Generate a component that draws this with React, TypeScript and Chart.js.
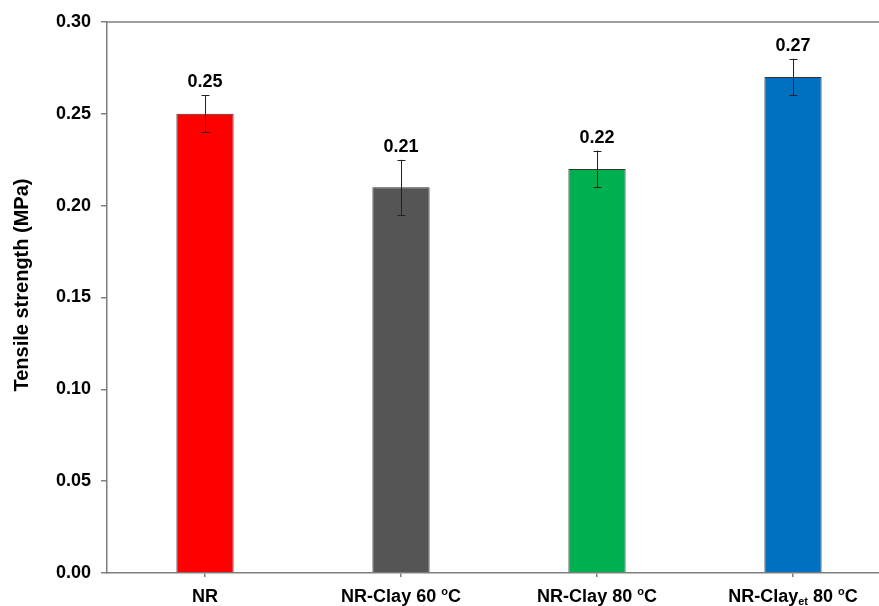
import React, { useEffect, useRef } from "react";
import { Chart, registerables } from "chart.js";

Chart.register(...registerables);

const categories = ["NR", "NR-Clay 60 oC", "NR-Clay 80 oC", "NR-Clayet 80 oC"];
// rich label segments: [text, kind] where kind is "", "sup" or "sub"
const categoryLabelParts: [string, string][][] = [
  [["NR", ""]],
  [["NR-Clay 60 ", ""], ["o", "sup"], ["C", ""]],
  [["NR-Clay 80 ", ""], ["o", "sup"], ["C", ""]],
  [["NR-Clay", ""], ["et", "sub"], [" 80 ", ""], ["o", "sup"], ["C", ""]],
];
const tensileValues = [0.25, 0.21, 0.22, 0.27];
const tensileErrors = [0.01, 0.015, 0.01, 0.01];
const barColors = ["#FF0000", "#555555", "#00B050", "#0070C0"];
const yTicks = [0, 0.05, 0.1, 0.15, 0.2, 0.25, 0.3];
const yTitle = "Tensile strength (MPa)";

const FONT = "'Liberation Sans', Arial, sans-serif";
const AXIS_COLOR = "#7f7f7f";

const overlayPlugin = {
  id: "overlay",
  afterDraw(chart: any) {
    const ctx: CanvasRenderingContext2D = chart.ctx;
    const { left, right, top } = chart.chartArea;
    const ys = chart.scales.y;
    const xs = chart.scales.x;
    const meta = chart.getDatasetMeta(0);
    ctx.save();
    // top frame line
    ctx.strokeStyle = AXIS_COLOR;
    ctx.lineWidth = 1.5;
    ctx.beginPath();
    ctx.moveTo(left - 0.75, top);
    ctx.lineTo(right + 2, top);
    ctx.stroke();

    // error bars + value labels
    meta.data.forEach((bar: any, i: number) => {
      const x = Math.round(bar.x) + 0.5;
      const hi = ys.getPixelForValue(tensileValues[i] + tensileErrors[i]);
      const lo = ys.getPixelForValue(tensileValues[i] - tensileErrors[i]);
      ctx.strokeStyle = "#222222";
      ctx.lineWidth = 1;
      ctx.beginPath();
      ctx.moveTo(x, hi);
      ctx.lineTo(x, lo);
      ctx.moveTo(x - 4, Math.round(hi) + 0.5);
      ctx.lineTo(x + 4, Math.round(hi) + 0.5);
      ctx.moveTo(x - 4, Math.round(lo) + 0.5);
      ctx.lineTo(x + 4, Math.round(lo) + 0.5);
      ctx.stroke();

      ctx.fillStyle = "#000000";
      ctx.font = `bold 18px ${FONT}`;
      ctx.textAlign = "center";
      ctx.textBaseline = "alphabetic";
      ctx.fillText(tensileValues[i].toFixed(2), bar.x, hi - 8);
    });

    // category labels with super/subscripts
    ctx.textBaseline = "alphabetic";
    ctx.textAlign = "left";
    categoryLabelParts.forEach((parts, i) => {
      const cx = xs.getPixelForValue(i);
      const fontFor = (k: string) => (k === "" ? `bold 18px ${FONT}` : `bold 11px ${FONT}`);
      let total = 0;
      parts.forEach(([t, k]) => {
        ctx.font = fontFor(k);
        total += ctx.measureText(t).width;
      });
      let px = cx - total / 2;
      const base = 602;
      parts.forEach(([t, k]) => {
        ctx.font = fontFor(k);
        const dy = k === "sup" ? -7 : k === "sub" ? 3 : 0;
        ctx.fillText(t, px, base + dy);
        px += ctx.measureText(t).width;
      });
    });

    // y axis title
    ctx.save();
    ctx.translate(22, 285);
    ctx.rotate(-Math.PI / 2);
    ctx.font = `bold 20px ${FONT}`;
    ctx.textAlign = "center";
    ctx.textBaseline = "middle";
    ctx.fillStyle = "#000000";
    ctx.fillText(yTitle, 0, 0);
    ctx.restore();

    ctx.restore();
  },
};

export default function App() {
  const canvasRef = useRef<HTMLCanvasElement | null>(null);

  useEffect(() => {
    if (!canvasRef.current) return;
    const chart = new Chart(canvasRef.current, {
      type: "bar",
      data: {
        labels: categories,
        datasets: [
          {
            data: tensileValues,
            backgroundColor: barColors,
            borderColor: "#333333",
            borderWidth: 1,
            categoryPercentage: 1,
            barPercentage: 0.292,
          },
        ],
      },
      options: {
        animation: false,
        responsive: false,
        devicePixelRatio: 1,
        layout: { padding: { top: 22, right: 9, left: 0, bottom: 0 } },
        plugins: {
          legend: { display: false },
          tooltip: { enabled: false },
          title: { display: false },
        },
        scales: {
          x: {
            type: "category",
            offset: true,
            ticks: { display: false },
            grid: {
              offset: false,
              drawOnChartArea: false,
              drawTicks: true,
              tickLength: 4,
              color: AXIS_COLOR,
              lineWidth: 1.5,
            },
            border: { color: AXIS_COLOR, width: 1.5 },
            afterFit: (s: any) => {
              s.height = 33;
            },
          },
          y: {
            min: 0,
            max: 0.3,
            afterBuildTicks: (s: any) => {
              s.ticks = yTicks.map((v) => ({ value: v }));
            },
            ticks: {
              callback: (v: any) => Number(v).toFixed(2),
              font: { family: FONT, size: 18, weight: "bold" },
              color: "#000000",
              padding: 10,
            },
            grid: {
              drawOnChartArea: false,
              drawTicks: true,
              tickLength: 6,
              color: AXIS_COLOR,
              lineWidth: 1.5,
            },
            border: { color: AXIS_COLOR, width: 1.5 },
            afterFit: (s: any) => {
              s.width = 107;
            },
          },
        },
      },
      plugins: [overlayPlugin],
    } as any);
    return () => chart.destroy();
  }, []);

  return (
    <div
      style={{
        position: "absolute",
        left: 0,
        top: 0,
        width: 879,
        height: 606,
        overflow: "hidden",
        background: "#ffffff",
      }}
    >
      <canvas ref={canvasRef} width={900} height={606} style={{ width: 900, height: 606, display: "block" }} />
    </div>
  );
}
